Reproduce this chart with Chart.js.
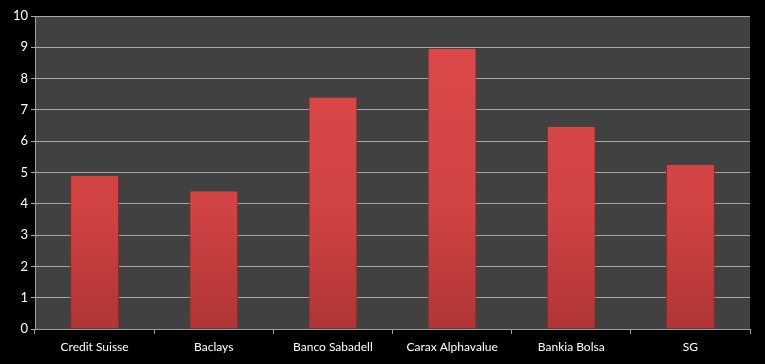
<!DOCTYPE html>
<html><head><meta charset="utf-8">
<script src="https://cdn.jsdelivr.net/npm/chart.js@4"></script>
<style>html,body{margin:0;padding:0;background:#000;}#wrap{width:765px;height:364px;}</style>
</head><body><div id="wrap"><canvas id="c"></canvas></div>
<script>
const categories = ["Credit Suisse", "Baclays", "Banco Sabadell", "Carax Alphavalue", "Bankia Bolsa", "SG"];
const values = [4.9, 4.4, 7.4, 8.95, 6.45, 5.25];
const yTicks = [0,1,2,3,4,5,6,7,8,9,10];

const bgPlugin = {
  id: 'bg',
  beforeDraw(chart) {
    const {ctx, chartArea: a} = chart;
    ctx.save();
    ctx.fillStyle = '#000';
    ctx.fillRect(0, 0, chart.width, chart.height);
    ctx.fillStyle = '#414141';
    ctx.fillRect(a.left, a.top, a.right - a.left, a.bottom - a.top);
    ctx.restore();
  }
};

function barFill(context) {
  const chart = context.chart;
  const a = chart.chartArea;
  if (!a) return '#d04040';
  const g = chart.ctx.createLinearGradient(0, a.top, 0, a.bottom);
  g.addColorStop(0, '#de4a4a');
  g.addColorStop(0.6, '#d24343');
  g.addColorStop(1, '#b03535');
  return g;
}

new Chart(document.getElementById('c'), {
  type: 'bar',
  data: {
    labels: categories,
    datasets: [{
      data: values,
      backgroundColor: barFill,
      borderColor: '#8a2828',
      borderWidth: {left: 1, right: 1, top: 0, bottom: 0},
      barPercentage: 0.41,
      categoryPercentage: 1.0
    }]
  },
  plugins: [bgPlugin],
  options: {
    responsive: true,
    maintainAspectRatio: false,
    animation: false,
    layout: {padding: {top: 16, right: 15, left: 0, bottom: 0}},
    plugins: {legend: {display: false}, tooltip: {enabled: false}},
    scales: {
      x: {
        offset: true,
        grid: {offset: true, drawOnChartArea: false, drawTicks: true, tickLength: 5, color: '#a0a0a0'},
        border: {display: true, color: '#a0a0a0', width: 1},
        ticks: {color: '#ffffff', font: {family: 'Lato', size: 12}, padding: 6, maxRotation: 0, autoSkip: false},
        afterFit(s) { s.height = 35; }
      },
      y: {
        min: 0, max: 10,
        afterBuildTicks(s) { s.ticks = yTicks.map(v => ({value: v})); },
        grid: {color: '#a6a6a6', lineWidth: 1, drawTicks: true, tickLength: 4},
        border: {display: true, color: '#a0a0a0', width: 1},
        ticks: {color: '#ffffff', font: {family: 'Lato', size: 13}, padding: 3},
        afterFit(s) { s.width = 35; }
      }
    }
  }
});
</script></body></html>
